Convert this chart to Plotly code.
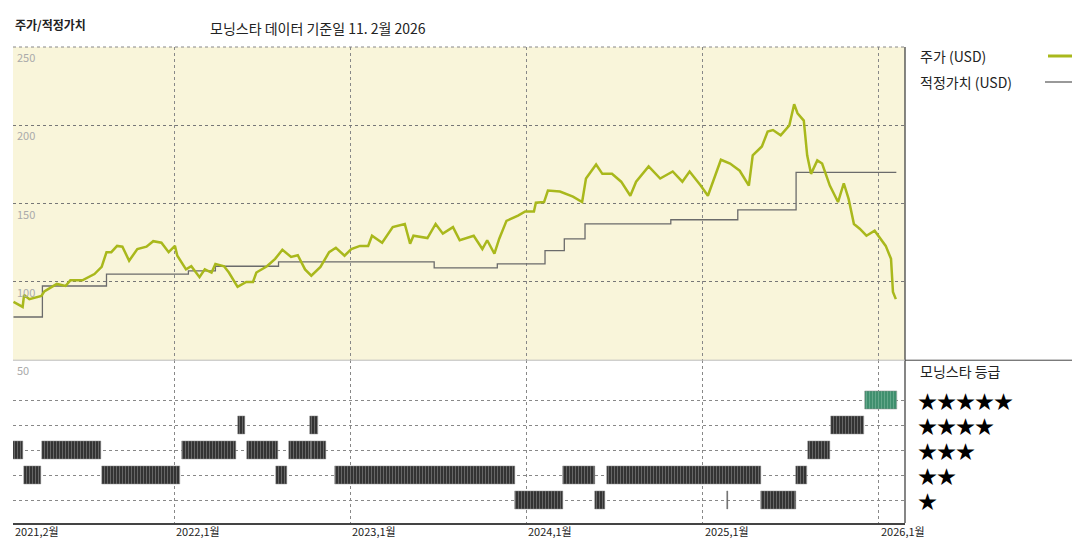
import pandas as pd
import plotly.graph_objects as go
from plotly.subplots import make_subplots

BASE = pd.Timestamp("2021-02-01")

# price (USD): day offsets from 2021-02-01 and values
price_days = [0,19,22,33,58,64,90,108,118,143,168,183,193,203,215,226,240,257,276,290,307,322,335,340,358,369,386,397,411,419,437,447,465,483,497,504,526,543,558,576,590,605,618,637,655,669,687,701,719,736,744,765,787,812,823,830,859,876,891,912,926,955,973,983,998,1008,1023,1047,1062,1080,1084,1101,1109,1134,1161,1180,1188,1209,1222,1242,1261,1280,1292,1318,1342,1368,1388,1403,1426,1441,1468,1487,1507,1526,1534,1553,1565,1576,1592,1610,1620,1627,1640,1647,1655,1668,1678,1694,1711,1723,1733,1744,1756,1770,1787,1810,1821,1825,1831]
price_vals = [87.2,84,91.7,89,91,94,98.7,97.4,101,101,105,109.6,119,119,123,122.5,113.5,121,122.5,126,125,119,123,116.7,108,110,103,108,106,111.5,110,106,96.8,100,100,106,110,114.7,120.5,116,117,108,104,109.6,119,121.8,116.7,121,123,123,129.5,125,135,137,124.4,129.5,128,137,130.8,135,126.6,129.5,121,126.6,118,127.6,139,142.3,145,145,150.6,151,158.3,157.7,154.5,151,166,175,169,169,164,155,164,173.7,166,170.5,164,170.5,161.5,155,178,175.6,171,161.5,180.8,186.5,196,197,193.6,200,213.5,207.7,203,180.8,169,177.6,175.6,161.5,151,163,153,137,134,129.5,132.7,123,114.7,93.6,89]

# fair value (USD): step start day offsets and values (last entry = end of line)
fv_days = [0,60,193,363,419,550,873,1004,1103,1143,1186,1364,1503,1624,1832]
fv_vals = [77.6,97.4,105,107,110,112.8,109,111.5,120,127.5,137,139.7,146,170,170]

# Morningstar rating periods: (stars, start day, end day)
rating_stars = [3,3,3,3,3,3,3, 2,2,2,2,2,2,2, 4,4,4, 5, 1,1,1,1]
rating_start = [0,60,350,484,571,617,1649, 21,184,545,667,1141,1232,1624, 465,616,1696, 1767, 1041,1207,1551,1481]
rating_end   = [19,182,462,548,618,649,1695, 58,346,568,1041,1207,1551,1647, 481,632,1765, 1833, 1141,1228,1624,1483]

year_ticks = ["2021-02-01","2022-01-01","2023-01-01","2024-01-01","2025-01-01","2026-01-01"]
year_labels = ["2021,2월","2022,1월","2023,1월","2024,1월","2025,1월","2026,1월"]
y_ticks = [250,200,150,100,50]
star_labels = ["★","★★","★★★","★★★★","★★★★★"]

FONT = "Noto Sans CJK KR"
fig = make_subplots(rows=2, cols=1, shared_xaxes=True, vertical_spacing=0,
                    row_heights=[0.658, 0.342])

px_dates = [BASE + pd.Timedelta(days=d) for d in price_days]
fv_x = [BASE + pd.Timedelta(days=d) for d in fv_days]

fig.add_trace(go.Scatter(x=fv_x, y=fv_vals, mode="lines", line=dict(color="#6b6b6b", width=1.3, shape="hv"),
                         showlegend=False), row=1, col=1)
fig.add_trace(go.Scatter(x=px_dates, y=price_vals, mode="lines", line=dict(color="#a9b81c", width=2.5),
                         showlegend=False), row=1, col=1)

for s, a, b in zip(rating_stars, rating_start, rating_end):
    color = "#3f8f6e" if s == 5 else "#333333"
    dur = (b - a) * 86400000
    fig.add_trace(go.Bar(y=[s], x=[dur], base=[BASE + pd.Timedelta(days=a)], orientation="h", width=0.72,
                         marker=dict(color=color, line=dict(width=0.5, color="#888"),
                                     pattern=dict(shape="|", fgcolor="#bbbbbb" if s != 5 else "#9fd0b8",
                                                  size=3, solidity=0.25)),
                         showlegend=False), row=2, col=1)

xr = [BASE - pd.Timedelta(days=1), BASE + pd.Timedelta(days=1850)]
fig.update_xaxes(range=xr, type="date", tickvals=year_ticks, showticklabels=False, showgrid=True,
                 gridcolor="#888", griddash="dot", gridwidth=1, zeroline=False, automargin=False)
fig.update_xaxes(showline=True, linecolor="#444", linewidth=2, mirror=False, row=2, col=1)
fig.update_yaxes(range=[50, 250], tickvals=[100, 150, 200, 250], showticklabels=False, showgrid=True,
                 gridcolor="#777", griddash="dot", zeroline=False, automargin=False, row=1, col=1)
fig.update_yaxes(range=[0.08, 6.6], tickvals=[1, 2, 3, 4, 5], showticklabels=False, showgrid=True,
                 gridcolor="#888", griddash="dot", zeroline=False, automargin=False, row=2, col=1)

fig.update_layout(width=1080, height=540, margin=dict(l=5, r=183, t=39, b=25, autoexpand=False),
                  plot_bgcolor="white", paper_bgcolor="white", bargap=0, barmode="overlay",
                  font=dict(family=FONT, color="#333"))

fig.add_shape(type="rect", xref="x domain", yref="y domain", x0=0, x1=1, y0=0, y1=1,
              fillcolor="#f9f5da", line_width=0, layer="below")
fig.add_shape(type="line", xref="paper", yref="paper", x0=0, x1=1, y0=1, y1=1,
              line=dict(color="#888", width=1, dash="dot"))
fig.add_shape(type="line", xref="paper", yref="paper", x0=1, x1=1, y0=0, y1=1,
              line=dict(color="#444", width=1.3))
fig.add_shape(type="line", xref="paper", yref="paper", x0=1, x1=1.205, y0=0.342, y1=0.342,
              line=dict(color="#444", width=1))
fig.add_shape(type="line", xref="paper", yref="paper", x0=0, x1=1, y0=0.342, y1=0.342,
              line=dict(color="#bbb", width=1))

for v in y_ticks:
    fig.add_annotation(x=0.002, xref="paper", y=v, yref="y", text=str(v), showarrow=False,
                       xanchor="left", yanchor="top", font=dict(size=11, color="#aaa"))
for t, lab in zip(year_ticks, year_labels):
    fig.add_annotation(x=t, xref="x", y=0, yref="paper", text=lab, showarrow=False,
                       xanchor="left", yanchor="top", yshift=2, font=dict(size=11, color="#222"))

lx = lambda p: (p - 5) / 892
ly = lambda p: 1 - (p - 39) / 476
fig.add_annotation(x=lx(5), y=ly(17), xref="paper", yref="paper", text="<b>주가/적정가치</b>",
                   showarrow=False, xanchor="left", yanchor="middle", font=dict(size=12, color="#222"))
fig.add_annotation(x=lx(200), y=ly(20), xref="paper", yref="paper", text="모닝스타 데이터 기준일 11. 2월 2026",
                   showarrow=False, xanchor="left", yanchor="middle", font=dict(size=14, color="#222"))
fig.add_annotation(x=lx(910), y=ly(48), xref="paper", yref="paper", text="주가 (USD)", showarrow=False,
                   xanchor="left", yanchor="middle", font=dict(size=14, color="#222"))
fig.add_annotation(x=lx(910), y=ly(74), xref="paper", yref="paper", text="적정가치 (USD)", showarrow=False,
                   xanchor="left", yanchor="middle", font=dict(size=14, color="#222"))
fig.add_shape(type="line", xref="paper", yref="paper", x0=lx(1040), x1=lx(1072), y0=ly(48), y1=ly(48),
              line=dict(color="#a9b81c", width=3))
fig.add_shape(type="line", xref="paper", yref="paper", x0=lx(1037), x1=lx(1072), y0=ly(74), y1=ly(74),
              line=dict(color="#777", width=1.3))
fig.add_annotation(x=lx(910), y=ly(363), xref="paper", yref="paper", text="모닝스타 등급", showarrow=False,
                   xanchor="left", yanchor="middle", font=dict(size=14, color="#222"))
for i, s in enumerate(star_labels):
    fig.add_annotation(x=lx(908), y=i + 1, xref="paper", yref="y2", text=s, showarrow=False,
                       xanchor="left", yanchor="middle", font=dict(size=19, color="#000"))

fig.write_html("out.html")
